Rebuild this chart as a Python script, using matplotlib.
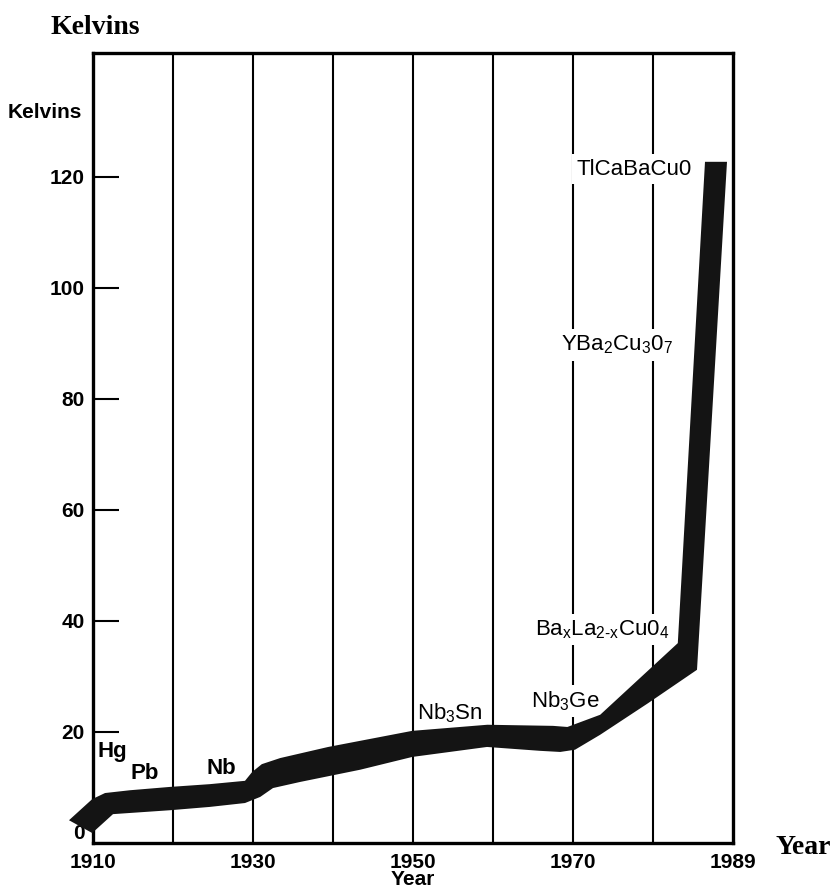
import matplotlib
matplotlib.use("Agg")
import matplotlib.pyplot as plt

plt.rcParams['font.family'] = ['Liberation Sans', 'DejaVu Sans']
plt.rcParams['mathtext.fontset'] = 'custom'
plt.rcParams['mathtext.rm'] = 'Liberation Sans'
plt.rcParams['mathtext.it'] = 'Liberation Sans:italic'
plt.rcParams['mathtext.bf'] = 'Liberation Sans:bold'

# upper edge of the black band (year, kelvins), left to right
upper_year = [1907.0, 1909.9, 1911.5, 1914.6, 1919.6, 1924.6, 1929.0, 1929.9, 1931.1,
              1933.4, 1939.4, 1949.9, 1959.3, 1967.5, 1969.3, 1973.4, 1983.1, 1986.5, 1989.25]
upper_k = [4.1, 7.9, 9.0, 9.5, 10.1, 10.6, 11.2, 12.8, 14.2,
           15.3, 17.3, 20.2, 21.3, 21.1, 20.9, 23.1, 36.0, 122.7, 122.7]

# lower edge of the band, right to left
lower_year = [1985.5, 1979.4, 1973.4, 1970.25, 1968.4, 1965.9, 1959.25, 1949.9, 1943.4,
              1935.9, 1932.5, 1930.9, 1929.0, 1924.6, 1919.6, 1912.5, 1909.9]
lower_k = [31.2, 25.2, 19.5, 16.8, 16.4, 16.6, 17.3, 15.5, 13.2,
           11.0, 9.9, 8.3, 7.2, 6.5, 5.9, 5.2, 1.8]

# material labels
materials = ['Hg', 'Pb', 'Nb',
             r'Nb$_{\text{3}}$Sn',
             r'Nb$_{\text{3}}$Ge',
             r'Ba$_{\text{x}}$La$_{\text{2-x}}$Cu0$_{\text{4}}$',
             r'YBa$_{\text{2}}$Cu$_{\text{3}}$0$_{\text{7}}$',
             'TlCaBaCu0']
mat_year = [1912.4, 1916.4, 1926.1, 1954.6, 1969.1, 1973.6, 1975.5, 1977.6]
mat_k = [16.4, 12.6, 13.5, 23.4, 25.6, 38.4, 89.7, 121.4]
mat_bold = [True, True, True, False, False, False, False, False]
mat_box = [False, False, False, False, True, True, True, True]

grid_years = [1920, 1930, 1940, 1950, 1960, 1970, 1980]
xtick_pos = [1910, 1930, 1950, 1970, 1990]
xtick_labels = ['1910', '1930', '1950', '1970', '1989']
ytick_pos = [0, 20, 40, 60, 80, 100, 120]

fig = plt.figure(figsize=(8.33, 8.93), dpi=100)
ax = fig.add_axes([93/833, 50/893, 640/833, 790/893])

ax.set_xlim(1910, 1990)
ax.set_ylim(0, 142.3)

for yr in grid_years:
    ax.axvline(yr, color='black', lw=1.5, zorder=1)

ax.fill(upper_year + lower_year, upper_k + lower_k, color='#141414', lw=0,
        zorder=4, clip_on=False)

for name, x, y, b, box in zip(materials, mat_year, mat_k, mat_bold, mat_box):
    kw = {}
    if box:
        kw['bbox'] = dict(facecolor='white', edgecolor='none', pad=3)
    ax.text(x, y, name, fontsize=16, fontweight='bold' if b else 'normal',
            ha='center', va='center', zorder=3, **kw)

for s in ax.spines.values():
    s.set_linewidth(2.4)

ax.set_yticks(ytick_pos)
ax.set_yticklabels([str(v) for v in ytick_pos], fontsize=15, fontweight='bold')
ax.tick_params(axis='y', direction='in', length=19, width=1.5, pad=6)
ax.get_yticklabels()[0].set_va('bottom')
ax.set_xticks(xtick_pos)
ax.set_xticklabels(xtick_labels, fontsize=15, fontweight='bold')
ax.tick_params(axis='x', length=0, pad=7)
ax.set_xlabel('Year', fontsize=15, fontweight='bold', labelpad=-1)

ax.text(-0.017, 0.925, 'Kelvins', transform=ax.transAxes, fontsize=15,
        fontweight='bold', ha='right', va='center')
fig.text(95/833, 1 - 27/893, 'Kelvins', family='Liberation Serif', fontsize=20,
         fontweight='bold', ha='center', va='center')
fig.text(803/833, 1 - 848/893, 'Year', family='Liberation Serif', fontsize=20,
         fontweight='bold', ha='center', va='center')

fig.savefig('out.png', dpi=100, facecolor='white')
